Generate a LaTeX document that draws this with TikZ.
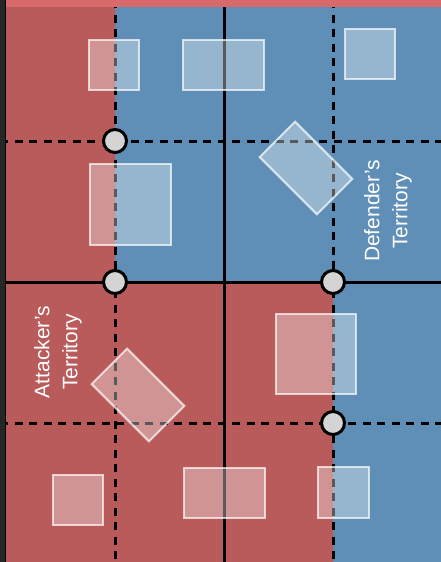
\documentclass[tikz,border=0pt]{standalone}
\usepackage{fontspec}
\setmainfont{Liberation Sans}
\usepackage{xcolor}
\usetikzlibrary{positioning}
\definecolor{AttackRed}{HTML}{B95B5B}
\definecolor{DefendBlue}{HTML}{5F8FB6}
\definecolor{EdgeRed}{HTML}{D86A6C}
\definecolor{RailDark}{HTML}{262626}
\definecolor{MarkerGray}{HTML}{D4D4D4}

\begin{document}
\begin{tikzpicture}[x=1pt,y=-1pt,
    cover/.style={draw=white, draw opacity=0.7, fill=white, fill opacity=0.35,
        line width=2pt, inner sep=0pt, minimum width=50pt, minimum height=50pt},
    widecover/.style={cover, minimum width=81pt},
    marker/.style={circle, draw=black, fill=MarkerGray, line width=3pt,
        minimum size=23pt, inner sep=0pt},
    zone/.style={text=white, rotate=90, align=center,
        font=\fontsize{21}{28}\selectfont},
    gridline/.style={black, line width=3pt},
    halfline/.style={black, line width=3pt, dash pattern=on 8pt off 6.5pt}]
    \useasboundingbox (0,0) rectangle (441,562);
    % territories
    \fill[DefendBlue] (0,0) rectangle (441,562);
    \fill[AttackRed] (0,0) -- (115,0) -- (115,282) -- (333,282) -- (333,562) -- (0,562) -- cycle;
    % grid
    \coordinate (ta) at (115,0);   \coordinate (ba) at (115,562);
    \coordinate (tb) at (224,0);   \coordinate (bb) at (224,562);
    \coordinate (tc) at (333,0);   \coordinate (bc) at (333,562);
    \coordinate (la) at (0,141);   \coordinate (ra) at (441,141);
    \coordinate (lb) at (0,282);   \coordinate (rb) at (441,282);
    \coordinate (lc) at (0,423);   \coordinate (rc) at (441,423);
    \draw[halfline] (ta) -- (ba);
    \draw[gridline] (tb) -- (bb);
    \draw[halfline] (tc) -- (bc);
    \draw[halfline] (la) -- (ra);
    \draw[gridline] (lb) -- (rb);
    \draw[halfline] (lc) -- (rc);
    % cover
    \node[cover] (c1) at (114,65) {};
    \node[widecover] (c2) at (223.5,65) {};
    \node[cover] (c3) at (369.5,54) {};
    \node[widecover, rotate=-45] (c4) at (306,168) {};
    \node[cover, minimum width=81pt, minimum height=81pt] (c5) at (130.5,204.5) {};
    \node[widecover, rotate=-45] (c6) at (138,395) {};
    \node[cover, minimum width=80pt, minimum height=80pt] (c7) at (316,354) {};
    \node[cover] (c8) at (77.5,499.5) {};
    \node[widecover] (c9) at (224,492.5) {};
    \node[cover, minimum width=51pt, minimum height=51pt] (c10) at (343,492) {};
    % sites
    \node[marker] (m1) at (115,141) {};
    \node[marker] (m2) at (115,282) {};
    \node[marker] (m3) at (333,282) {};
    \node[marker] (m4) at (333,423) {};
    % labels
    \node[zone] (atk) at (58,352) {Attacker’s\\Territory};
    \node[zone] (def) at (388,211) {Defender’s\\Territory};
    % frame
    \fill[EdgeRed] (0,0) rectangle (441,6.5);
    \fill[RailDark] (0,0) rectangle (5,562);
    \draw[black, line width=1.5pt] (5.5,0) -- (5.5,562);
\end{tikzpicture}
\end{document}
